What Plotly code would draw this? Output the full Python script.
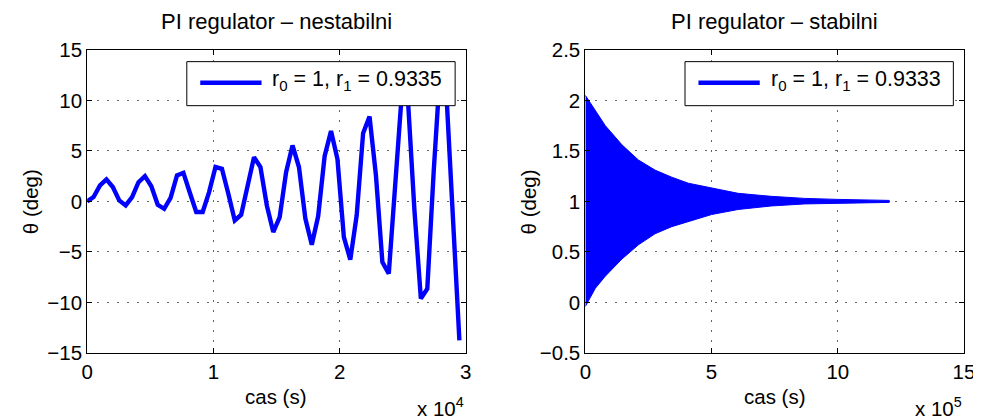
import plotly.graph_objects as go

# ---- data: left panel (unstable PI regulator) ----
t_unstable = [0, 508, 1017, 1525, 2034, 2542, 3051, 3559, 4068, 4576, 5085, 5593, 6102, 6610,
              7119, 7627, 8136, 8644, 9153, 9661, 10169, 10678, 11186, 11695, 12203, 12712,
              13220, 13729, 14237, 14746, 15254, 15763, 16271, 16780, 17288, 17797, 18305,
              18814, 19322, 19831, 20339, 20847, 21356, 21864, 22373, 22881, 23390, 23898,
              24407, 24915, 25424, 25932, 26441, 26949, 27458, 27966, 28475, 28983, 29492]
theta_unstable = [0, 0.43, 1.58, 2.18, 1.42, 0.1, -0.4, 0.43, 1.9, 2.5, 1.5, -0.33, -0.73, 0.36,
                  2.57, 2.83, 0.86, -1.05, -1.05, 0.92, 3.4, 3.23, 0.76, -1.88, -1.32, 1.75,
                  4.38, 3.4, -0.4, -3.03, -1.55, 2.9, 5.54, 3.4, -1.7, -4.28, -1.45, 4.48,
                  6.96, 4.2, -3.53, -5.77, -1.38, 6.76, 8.4, 2.57, -6.0, -7.15, 1.3, 10.4,
                  9.9, -0.9, -9.63, -8.64, 3.0, 13.0, 10.4, -1.9, -13.75]

# ---- data: right panel (stable PI regulator), envelope of the dense oscillation ----
t_stable = [0, 13000, 26000, 39500, 79000, 145000, 210000, 276000, 342000, 408000,
            500000, 605000, 737000, 868000, 1000000, 1204000]
theta_stable_upper = [2.05, 2.0, 1.95, 1.90, 1.75, 1.56, 1.41, 1.31, 1.24, 1.18,
                      1.13, 1.08, 1.05, 1.03, 1.02, 1.01]
theta_stable_lower = [-0.04, 0.02, 0.08, 0.14, 0.26, 0.43, 0.57, 0.68, 0.75, 0.80,
                      0.87, 0.92, 0.955, 0.975, 0.985, 0.99]

left_xticks = [0, 10000, 20000, 30000]
left_xlabels = ["0", "1", "2", "3"]
left_yticks = [-15, -10, -5, 0, 5, 10, 15]
right_xticks = [0, 500000, 1000000, 1500000]
right_xlabels = ["0", "5", "10", "15"]
right_yticks = [-0.5, 0, 0.5, 1, 1.5, 2, 2.5]

titles = ["PI regulator \u2013 nestabilni", "PI regulator \u2013 stabilni"]
legend_texts = ["r<sub>0</sub> = 1, r<sub>1</sub> = 0.9335",
                "r<sub>0</sub> = 1, r<sub>1</sub> = 0.9333"]

W, H = 981, 419
BLUE = "#0000ff"
FONT = "Liberation Sans, Arial, sans-serif"

# the captured picture maps figure pixels (f) to picture pixels (r) as r = a*f + b;
# target positions below are given in picture pixels and converted back.
AX, BX = 0.9862, 13.28
AY, BY = 0.9487, 17.5


def px(r):
    return ((r - BX) / AX) / W


def py(r):
    return 1 - ((r - BY) / AY) / H


fig = go.Figure()

fig.add_trace(go.Scatter(x=t_unstable, y=theta_unstable, mode="lines",
                         line=dict(color=BLUE, width=4.4), showlegend=False,
                         xaxis="x", yaxis="y"))

poly_x = t_stable + t_stable[::-1]
poly_y = theta_stable_upper + theta_stable_lower[::-1]
fig.add_trace(go.Scatter(x=poly_x, y=poly_y, mode="lines", fill="toself",
                         fillcolor=BLUE, line=dict(color=BLUE, width=1),
                         showlegend=False, xaxis="x2", yaxis="y2"))

L1, R1 = 86.7, 466.7
L2, R2 = 586.7, 966.7
TOP, BOT = 47.5, 351.7

axis_common = dict(showline=True, linecolor="black", linewidth=1, mirror="ticks",
                   ticks="inside", ticklen=5, tickcolor="black", zeroline=False,
                   showgrid=True, gridcolor="rgba(0,0,0,0.6)", gridwidth=1,
                   griddash="2px,8px",
                   tickfont=dict(family=FONT, size=20.5, color="black"))

fig.update_layout(
    width=W, height=H, margin=dict(l=0, r=0, t=0, b=0),
    paper_bgcolor="white", plot_bgcolor="white",
    xaxis=dict(domain=[px(L1), px(R1)], range=[0, 30000], tickvals=left_xticks,
               ticktext=left_xlabels, anchor="y", **axis_common),
    yaxis=dict(domain=[py(BOT), py(TOP)], range=[-15, 15], tickvals=left_yticks,
               anchor="x", **axis_common),
    xaxis2=dict(domain=[px(L2), px(R2)], range=[0, 1500000], tickvals=right_xticks,
                ticktext=right_xlabels, anchor="y2", **axis_common),
    yaxis2=dict(domain=[py(BOT), py(TOP)], range=[-0.5, 2.5], tickvals=right_yticks,
                anchor="x2", **axis_common),
)

annotations = []
shapes = []
for i, (L, R) in enumerate([(L1, R1), (L2, R2)]):
    cx = (L + R) / 2
    annotations.append(dict(text=titles[i], x=px(cx), y=py(19.5), xref="paper", yref="paper",
                            xanchor="center", yanchor="middle", showarrow=False,
                            font=dict(family=FONT, size=22, color="black")))
    annotations.append(dict(text="cas (s)", x=px(cx), y=py(395), xref="paper", yref="paper",
                            xanchor="center", yanchor="middle", showarrow=False,
                            font=dict(family=FONT, size=20.5, color="black")))
    annotations.append(dict(text="x 10<sup>%d</sup>" % (4 if i == 0 else 5),
                            x=px(R), y=py(406), xref="paper", yref="paper",
                            xanchor="right", yanchor="middle", showarrow=False,
                            font=dict(family=FONT, size=20.5, color="black")))
    annotations.append(dict(text="\u03b8 (deg)", x=px(L - 57), y=py(200), xref="paper",
                            yref="paper", xanchor="center", yanchor="middle",
                            textangle=-90, showarrow=False,
                            font=dict(family=FONT, size=20.5, color="black")))
    bx0 = L + 100
    bx1 = bx0 + 269.3
    shapes.append(dict(type="rect", xref="paper", yref="paper",
                       x0=px(bx0), x1=px(bx1), y0=py(103.5), y1=py(59.3),
                       line=dict(color="black", width=1), fillcolor="white", layer="above"))
    shapes.append(dict(type="line", xref="paper", yref="paper",
                       x0=px(bx0 + 13.5), x1=px(bx0 + 75), y0=py(80.5), y1=py(80.5),
                       line=dict(color=BLUE, width=4.4), layer="above"))
    annotations.append(dict(text=legend_texts[i], x=px(bx0 + 84), y=py(78),
                            xref="paper", yref="paper", xanchor="left", yanchor="middle",
                            showarrow=False,
                            font=dict(family=FONT, size=21.5, color="black")))

fig.update_layout(annotations=annotations, shapes=shapes)

fig.write_html("out.html")
